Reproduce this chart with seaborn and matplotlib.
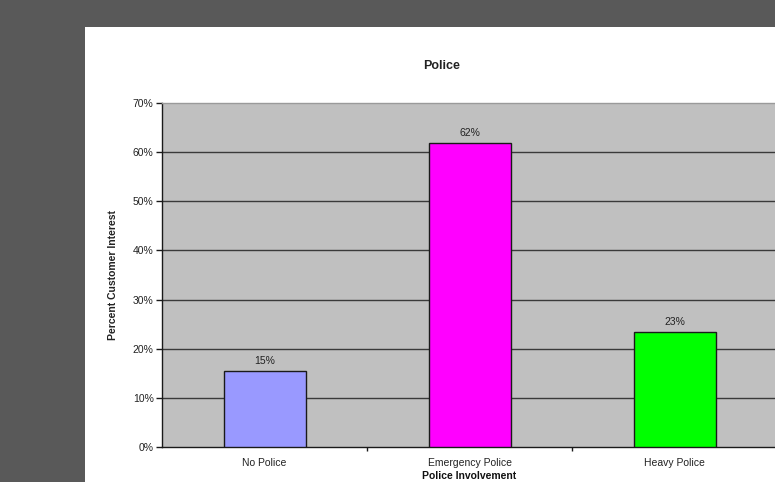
import matplotlib
matplotlib.use("Agg")
import matplotlib.pyplot as plt
import seaborn as sns
import pandas as pd
from matplotlib.patches import Rectangle
from matplotlib.ticker import PercentFormatter, FixedLocator

categories = ["No Police", "Emergency Police", "Heavy Police"]
values = [0.154, 0.618, 0.233]
colors = ["#9999ff", "#ff00ff", "#00ff00"]
yticks = [0, 0.1, 0.2, 0.3, 0.4, 0.5, 0.6, 0.7]

sns.set_theme(style="white")
plt.rcParams["font.family"] = ["Liberation Sans", "DejaVu Sans"]

W, H = 775, 482
FS = 7.5
fig = plt.figure(figsize=(W / 100, H / 100), dpi=100, facecolor="#595959")
fig.patches.append(Rectangle((85 / W, 0), 1 - 85 / W, (H - 27) / H,
                             transform=fig.transFigure, facecolor="white",
                             edgecolor="none", zorder=-10))

left, right, top, bottom = 162, 777, 103, 447
ax = fig.add_axes([left / W, (H - bottom) / H, (right - left) / W, (bottom - top) / H])
ax.set_zorder(5)
ax.set_facecolor("#c0c0c0")

df = pd.DataFrame({"cat": categories, "val": values})
sns.barplot(data=df, x="cat", y="val", hue="cat", palette=colors, legend=False,
            saturation=1, width=0.40, edgecolor="#1a1a1a", linewidth=1.0, ax=ax, zorder=3)

ax.set_xlim(-0.5, 2.5)
ax.set_ylim(0, 0.7)
ax.yaxis.set_major_locator(FixedLocator(yticks))
ax.yaxis.set_major_formatter(PercentFormatter(1.0, decimals=0))
for y in yticks[1:-1]:
    ax.axhline(y, color="#3a3a3a", linewidth=1.0, zorder=1)

for i, v in enumerate(values):
    ax.text(i, v + 0.011, f"{round(v * 100):.0f}%", ha="center", va="bottom",
            fontsize=FS, color="#222222", zorder=4)

for s in ["left", "bottom"]:
    ax.spines[s].set_color("#1a1a1a")
    ax.spines[s].set_linewidth(1.0)
ax.spines["top"].set_color("#9a9a9a")
ax.spines["top"].set_linewidth(1.0)
ax.spines["right"].set_visible(False)

ax.tick_params(axis="y", which="major", direction="out", length=4, width=1,
               color="#1a1a1a", labelsize=FS, labelcolor="#222222", pad=2, left=True)
ax.tick_params(axis="x", which="major", length=0, labelsize=FS, labelcolor="#222222", pad=8)
ax.xaxis.set_minor_locator(FixedLocator([0.5, 1.5]))
ax.tick_params(axis="x", which="minor", direction="out", length=3, width=1,
               color="#1a1a1a", bottom=True)

ax.set_xlabel("Police Involvement", fontsize=FS, fontweight="bold", color="#111111", labelpad=2)
ax.set_ylabel("Percent Customer Interest", fontsize=FS, fontweight="bold", color="#222222", labelpad=11)
fig.text(442 / W, (H - 66) / H, "Police", ha="center", va="center",
         fontsize=9, fontweight="bold", color="#222222")

fig.savefig("out.png", dpi=100, facecolor=fig.get_facecolor())
